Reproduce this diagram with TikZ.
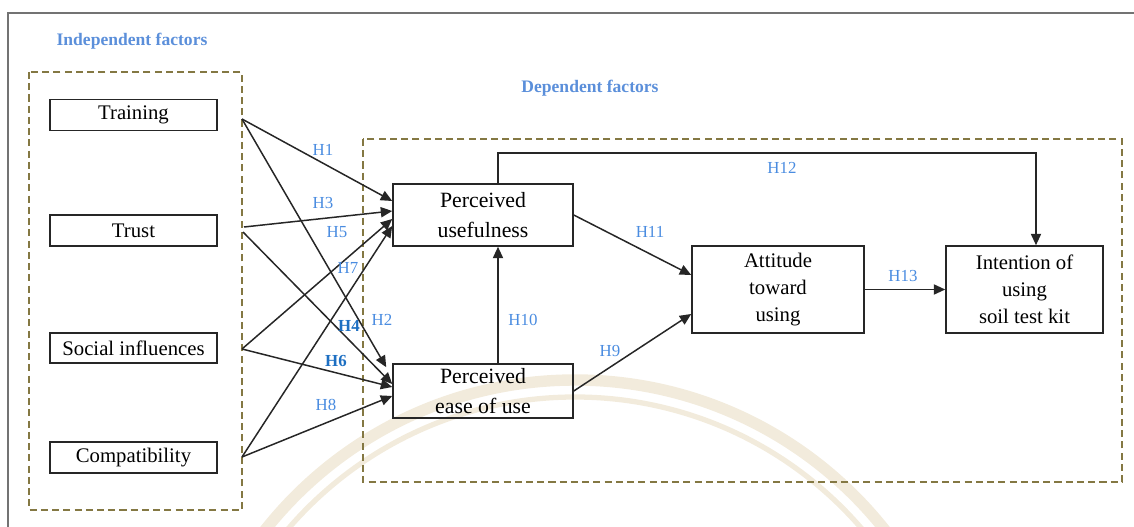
\documentclass[tikz,border=0pt]{standalone}
\usepackage{fontspec}
\setmainfont{Liberation Serif}
\usetikzlibrary{arrows.meta,calc}
\definecolor{dashcol}{HTML}{847843}
\definecolor{hblue}{HTML}{4A8CE0}
\definecolor{hdark}{HTML}{1D6FC2}
\definecolor{titleblue}{HTML}{5B8FDA}
\definecolor{wmark}{HTML}{F2EBDC}
\begin{document}
\begin{tikzpicture}[x=0.02cm,y=-0.02cm,
  box/.style={draw=black!85, line width=0.9pt, inner sep=0pt, align=center,
    font=\fontsize{11.8}{15.3}\selectfont},
  pbox/.style={box, font=\fontsize{12.4}{17.5}\selectfont},
  dbox/.style={draw=dashcol, line width=1.5pt, dash pattern=on 4pt off 2.4pt},
  lab/.style={text=hblue, font=\fontsize{9.6}{11}\selectfont, inner sep=0pt},
  labd/.style={text=hdark, font=\bfseries\fontsize{9.6}{11}\selectfont, inner sep=0pt},
  ttl/.style={text=titleblue, font=\bfseries\fontsize{10}{12}\selectfont, inner sep=0pt},
  arr/.style={-{Triangle[length=6.5pt,width=5.8pt]}, line width=0.85pt, draw=black!85}]
\useasboundingbox (0,0) rectangle (1134,527);
% watermark
\begin{scope}
\clip (0,0) rectangle (1134,527);
\draw[wmark, line width=6.5pt] (575,775) circle[radius=395];
\draw[wmark, line width=3pt] (575,775) circle[radius=378];
\end{scope}
% outer frame
\draw[black!55, line width=0.9pt] (8,527) -- (8,13) -- (1134,13);
% dashed groups
\draw[dbox] (29,72) rectangle (242,510);
\draw[dbox] (363,139) rectangle (1122,482);
\node[ttl] (t1) at (132,41) {Independent factors};
\node[ttl] (t2) at (590,88) {Dependent factors};
% independent factors
\node[box, minimum width=3.34cm, minimum height=0.62cm] (tr) at (133.5,115) {Training};
\node[box, minimum width=3.34cm, minimum height=0.62cm] (tu) at (133.5,230.5) {Trust};
\node[box, minimum width=3.34cm, minimum height=0.6cm] (si) at (133.5,348) {Social influences};
\node[box, minimum width=3.34cm, minimum height=0.62cm] (co) at (133.5,457.5) {Compatibility};
% dependent factors
\node[pbox, minimum width=3.6cm, minimum height=1.24cm] (pu) at (483,215) {Perceived\\usefulness};
\node[pbox, minimum width=3.6cm, minimum height=1.08cm] (pe) at (483,391) {Perceived\\ease of use};
\node[box, minimum width=3.44cm, minimum height=1.74cm] (at) at (778,289.5) {Attitude\\toward\\using};
\node[box, minimum width=3.14cm, minimum height=1.74cm] (in) at (1024.5,289.5) {Intention of\\using\\soil test kit};
% sources
\coordinate (trS) at (242,119);
\coordinate (tuS) at (244,227);
\coordinate (tuS2) at (243,232);
\coordinate (siS) at (242,349);
\coordinate (coS) at (242,457);
\coordinate (col) at (498,0);
\coordinate (h12) at (1036,153);
% left arrows
\draw[arr] (trS) -- (pu.west |- 0,201);
\draw[arr] (trS) -- ($(pe.north west)+(-6,4)$);
\draw[arr] (tuS) -- (pu.west |- 0,211);
\draw[arr] (tuS2) -- (pe.west |- 0,384);
\draw[arr] (siS) -- (pu.west |- 0,219);
\draw[arr] (siS) -- (pe.west |- 0,387);
\draw[arr] (coS) -- (pu.west |- 0,226);
\draw[arr] (coS) -- (pe.west |- 0,396);
% right arrows
\draw[arr] (pe.north -| col) -- (pu.south -| col);
\draw[arr] (pu.north -| col) |- (h12) -- (h12 |- in.north);
\draw[arr] (pu.east) -- (at.west |- 0,275);
\draw[arr] (pe.east) -- (at.west |- 0,314);
\draw[arr] (at.east) -- (in.west);
% labels
\node[lab] (l1) at (323,150) {H1};
\node[lab] (l3) at (323,203) {H3};
\node[lab] (l5) at (337,232) {H5};
\node[lab] (l7) at (348,268) {H7};
\node[labd] (l4) at (349,326) {H4};
\node[lab] (l2) at (382,320) {H2};
\node[labd] (l6) at (336,361) {H6};
\node[lab] (l8) at (326,405) {H8};
\node[lab] (l10) at (523,320) {H10};
\node[lab] (l11) at (650,232) {H11};
\node[lab] (l9) at (610,351) {H9};
\node[lab] (l12) at (782,168) {H12};
\node[lab] (l13) at (903,276) {H13};
\end{tikzpicture}
\end{document}
